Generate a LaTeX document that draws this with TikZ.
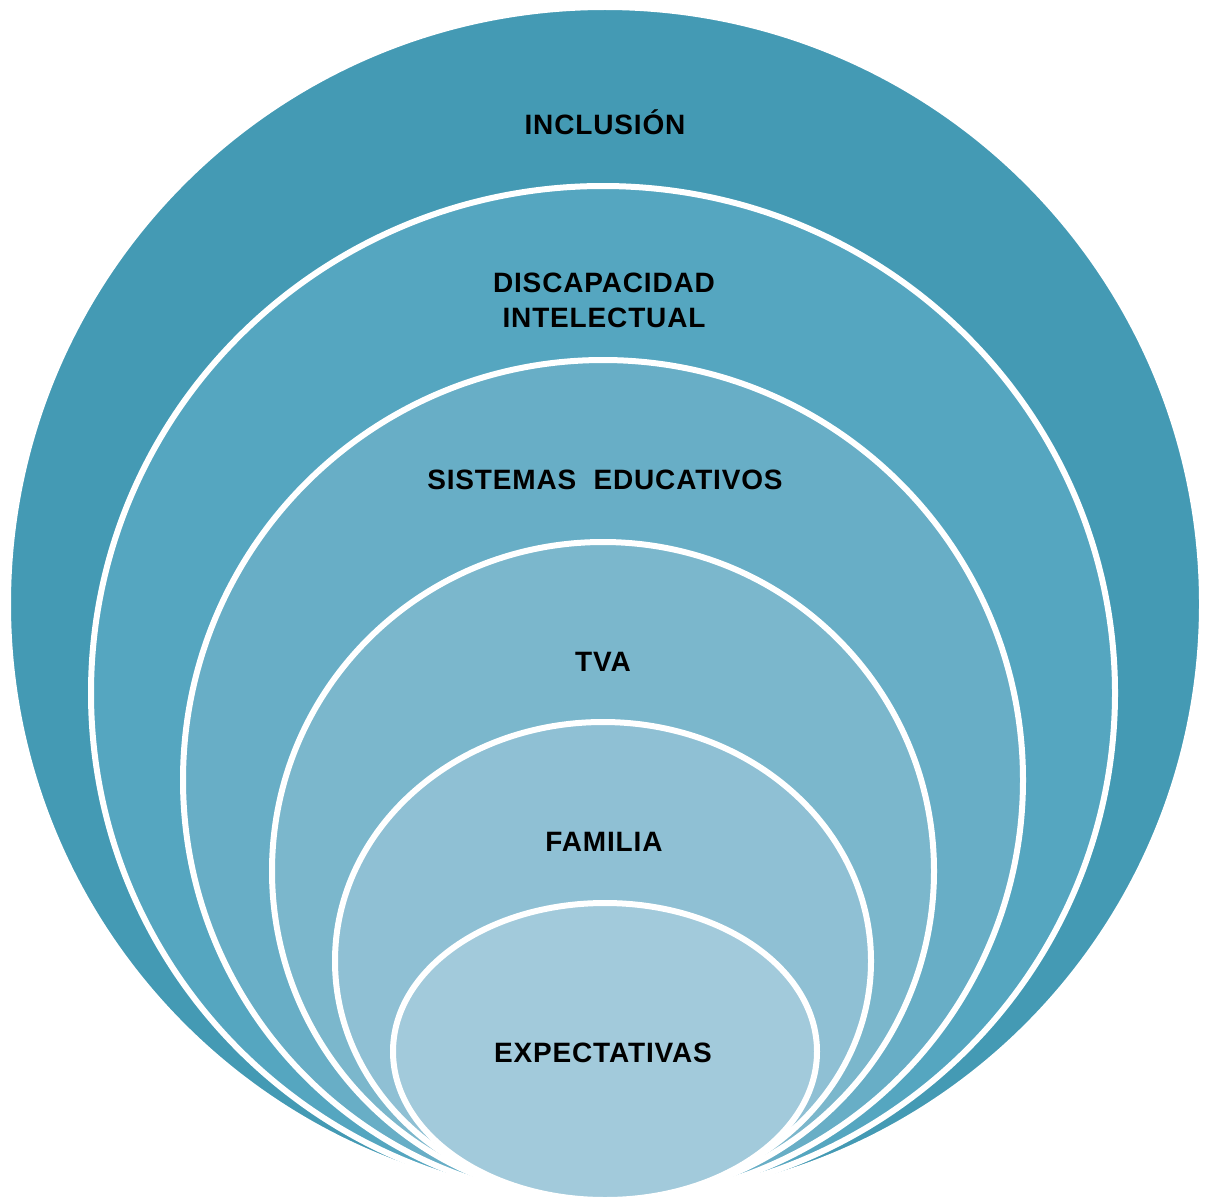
\documentclass[tikz,border=0pt]{standalone}
\usepackage{fontspec}
\setmainfont{Liberation Sans}[LetterSpace=3]
\definecolor{c1}{HTML}{449AB4}
\definecolor{c2}{HTML}{55A6C0}
\definecolor{c3}{HTML}{68AEC6}
\definecolor{c4}{HTML}{7BB7CC}
\definecolor{c5}{HTML}{8FC0D4}
\definecolor{c6}{HTML}{A2CADB}
\tikzset{
  ring/.style={draw=white, line width=6pt},
  lbl/.style={font=\fontsize{28}{35}\selectfont\bfseries, text=black, align=center, inner sep=0pt}
}
\begin{document}
\begin{tikzpicture}[x=1pt,y=-1pt]
\useasboundingbox (0,0) rectangle (1209,1196);
\fill[white] (0,0) rectangle (1209,1196);
\draw[ring, fill=c1] (605,604) ellipse [x radius=597, y radius=597];
\draw[ring, fill=c2] (603,693) ellipse [x radius=512, y radius=507];
\draw[ring, fill=c3] (603,780) ellipse [x radius=420, y radius=420];
\draw[ring, fill=c4] (603,871) ellipse [x radius=331, y radius=329];
\draw[ring, fill=c5] (603,961) ellipse [x radius=268, y radius=239];
\draw[ring, fill=c6] (605,1051.5) ellipse [x radius=212, y radius=148.5];
\node[lbl] (inc) at (605,122) {INCLUSIÓN};
\node[lbl] (dis) at (604,300) {DISCAPACIDAD\\INTELECTUAL};
\node[lbl] (sis) at (605,480) {SISTEMAS\ \ EDUCATIVOS};
\node[lbl] (tva) at (603,662) {TVA};
\node[lbl] (fam) at (604,842) {FAMILIA};
\node[lbl] (exp) at (603,1053) {EXPECTATIVAS};
\end{tikzpicture}
\end{document}
